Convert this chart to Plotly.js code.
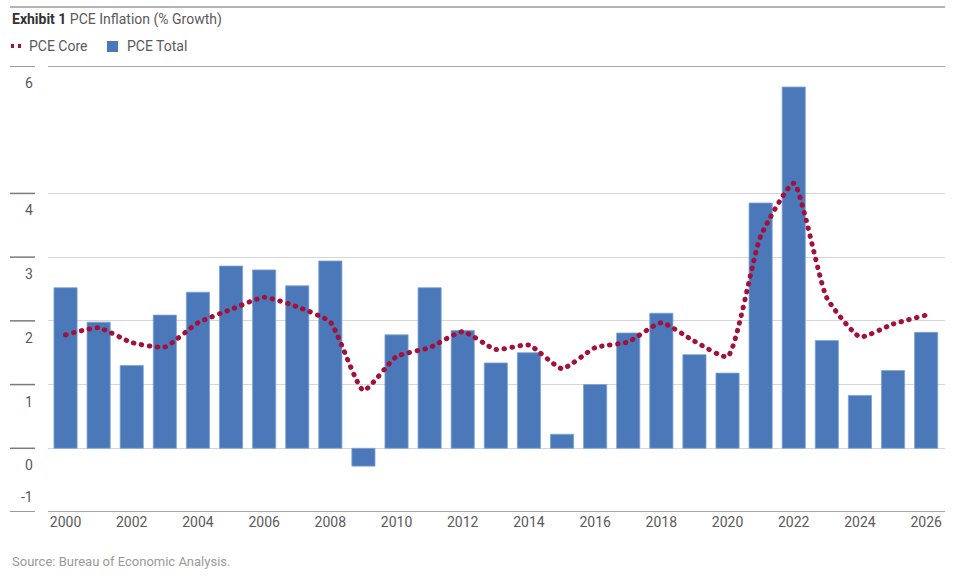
<!DOCTYPE html>
<html>
<head>
<meta charset="utf-8">
<script src="https://cdn.plot.ly/plotly-3.0.1.min.js"></script>
<style>
html,body{margin:0;padding:0;background:#fff;}
#chart{width:955px;height:575px;}
#chart path.js-line{stroke-linecap:round !important;}
</style>
</head>
<body>
<div id="chart"></div>
<script>
const years = [2000,2001,2002,2003,2004,2005,2006,2007,2008,2009,2010,2011,2012,2013,2014,2015,2016,2017,2018,2019,2020,2021,2022,2023,2024,2025,2026];
const pceTotal = [2.52,1.98,1.30,2.09,2.45,2.86,2.80,2.55,2.94,-0.28,1.78,2.52,1.85,1.34,1.50,0.22,1.00,1.81,2.12,1.47,1.18,3.85,5.67,1.69,0.83,1.22,1.82];
const pceCore = [1.78,1.89,1.66,1.59,1.97,2.18,2.37,2.22,1.98,0.91,1.44,1.58,1.83,1.55,1.62,1.25,1.58,1.67,1.97,1.68,1.44,3.33,4.16,2.36,1.75,1.95,2.09];
const yTickVals = [6,4,3,2,1,0,-1];
const yTickText = ['6','4','3','2','1','0','-1'];
const xTickVals = [2000,2002,2004,2006,2008,2010,2012,2014,2016,2018,2020,2022,2024,2026];
const seriesNames = ['PCE Core', 'PCE Total'];
const seriesColors = ['#a3103c', '#4a78b8'];

const FONT = 'Roboto, "Open Sans", sans-serif';
const TXT = '#5a5a5a';

// pixel helpers for decorations outside the plot area
const L = 48, R = 10, T = 66, B = 63, W = 955, H = 575;
const pw = W - L - R, ph = H - T - B;
const px = x => (x - L) / pw;
const py = y => (H - B - y) / ph;

const traces = [
  {
    type: 'bar', name: seriesNames[1], x: years, y: pceTotal,
    marker: {color: seriesColors[1], line: {color: '#7fa3d6', width: 0.8}},
    showlegend: false
  },
  {
    type: 'scatter', mode: 'lines', name: seriesNames[0], x: years, y: pceCore,
    line: {color: seriesColors[0], width: 5, dash: '0.5px,7.5px', shape: 'spline', smoothing: 0.5},
    showlegend: false
  }
];

const annotations = yTickVals.map((v, i) => ({
  xref: 'paper', yref: 'y', x: px(35), y: v,
  text: yTickText[i], showarrow: false, xanchor: 'right',
  yanchor: 'middle', yshift: v === -1 ? 15 : -17,
  font: {family: FONT, size: 14, color: TXT}
}));
annotations.push({
  xref: 'paper', yref: 'paper', x: px(10), y: py(561),
  xanchor: 'left', yanchor: 'middle', showarrow: false,
  text: 'Source: Bureau of Economic Analysis.',
  font: {family: FONT, size: 13, color: '#9a9a9a'}
});
// legend texts
annotations.push({
  xref: 'paper', yref: 'paper', x: px(27), y: py(46), xanchor: 'left', yanchor: 'middle',
  showarrow: false, text: seriesNames[0], font: {family: FONT, size: 14, color: TXT}
});
annotations.push({
  xref: 'paper', yref: 'paper', x: px(125), y: py(46), xanchor: 'left', yanchor: 'middle',
  showarrow: false, text: seriesNames[1], font: {family: FONT, size: 14, color: TXT}
});

const shapes = [];
yTickVals.forEach(v => {
  shapes.push({type: 'line', xref: 'paper', yref: 'y', x0: px(10), x1: px(35), y0: v, y1: v,
    line: {color: '#7a7a7a', width: 1.5}});
});
[6, -1].forEach(v => {
  shapes.push({type: 'line', xref: 'paper', yref: 'y', x0: 0, x1: 1, y0: v, y1: v,
    line: {color: '#8a8a8a', width: 1.5}});
});
shapes.push({type: 'line', xref: 'paper', yref: 'paper', x0: px(10), x1: 1, y0: py(7), y1: py(7),
  line: {color: '#9a9a9a', width: 1.5}});
// legend symbols
shapes.push({type: 'line', xref: 'paper', yref: 'paper', x0: px(11), x1: px(22), y0: py(46), y1: py(46),
  line: {color: seriesColors[0], width: 4, dash: '3px,4px'}});
shapes.push({type: 'rect', xref: 'paper', yref: 'paper', x0: px(107), x1: px(118), y0: py(52), y1: py(41),
  line: {width: 0}, fillcolor: seriesColors[1]});

const layout = {
  width: W, height: H,
  margin: {l: L, r: R, t: T, b: B},
  paper_bgcolor: '#fff', plot_bgcolor: '#fff',
  font: {family: FONT, size: 14, color: TXT},
  title: {
    text: '<b style="color:#333">Exhibit 1</b> PCE Inflation (% Growth)',
    xref: 'container', yref: 'container', x: 12/W, y: 1 - 19/H,
    xanchor: 'left', yanchor: 'middle',
    font: {family: FONT, size: 14, color: TXT}
  },
  showlegend: false,
  bargap: 0.3,
  xaxis: {
    range: [1999.47, 2026.57], tickvals: xTickVals, ticks: '', showgrid: false,
    zeroline: false, showline: false, tickfont: {family: FONT, size: 14, color: TXT},
    fixedrange: true
  },
  yaxis: {
    range: [-1, 6], tickvals: yTickVals, showticklabels: false, ticks: '',
    showgrid: true, gridcolor: '#d6d6d6', gridwidth: 1, zeroline: false, showline: false,
    fixedrange: true
  },
  annotations: annotations,
  shapes: shapes
};

Plotly.newPlot('chart', traces, layout, {displayModeBar: false, staticPlot: true});
</script>
</body>
</html>
